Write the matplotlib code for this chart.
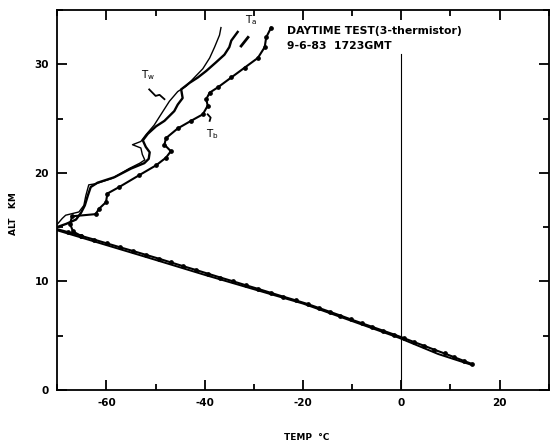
import matplotlib
matplotlib.use("Agg")
import matplotlib.pyplot as plt
from matplotlib.ticker import MultipleLocator

plt.rcParams['axes.unicode_minus'] = False

# upper part of the three profiles (temp C, alt km)
tw_t = [-36.7, -37.0, -38.0, -39.0, -40.4, -42.1, -43.8, -45.5, -47.2, -48.9, -50.3, -52.0,
        -53.0, -54.7, -53.0, -52.7, -52.2, -53.2, -55.4, -58.8, -62.2, -63.6, -64.2, -64.6,
        -65.6, -68.3, -69.0, -70.7]
tw_z = [33.4, 32.7, 31.6, 30.6, 29.6, 28.8, 28.0, 27.5, 26.6, 25.4, 24.4, 23.5,
        22.9, 22.6, 22.3, 21.7, 21.2, 20.9, 20.4, 19.5, 19.0, 18.9, 17.9, 17.0,
        16.4, 16.1, 15.8, 14.9]

ta_t = [-33.3, -34.6, -35.0, -36.0, -37.7, -39.7, -41.4, -43.1, -44.8, -44.5, -45.5, -46.2,
        -48.2, -49.9, -51.6, -52.6, -52.0, -51.2, -51.4, -52.3, -55.0, -58.4, -61.8, -63.2,
        -63.8, -64.4, -65.2, -66.2, -68.2, -70.7]
ta_z = [33.0, 32.2, 31.6, 30.9, 30.2, 29.4, 28.8, 28.3, 27.7, 26.9, 26.3, 25.7,
        24.8, 24.3, 23.6, 23.0, 22.4, 21.9, 21.3, 20.9, 20.4, 19.6, 19.1, 18.7,
        17.9, 17.0, 16.3, 15.7, 15.3, 14.9]

tb_t = [-26.5, -27.5, -27.8, -29.2, -31.9, -34.6, -37.3, -39.0, -39.7, -39.4, -40.4, -42.8,
        -45.5, -47.9, -48.2, -46.9, -47.9, -49.9, -53.3, -57.4, -59.8, -60.1, -61.5, -62.2,
        -67.0, -67.4, -66.8, -65.2]
tb_z = [33.4, 32.5, 31.6, 30.6, 29.7, 28.8, 27.9, 27.4, 26.8, 26.2, 25.4, 24.8,
        24.1, 23.2, 22.6, 22.0, 21.4, 20.7, 19.8, 18.7, 18.1, 17.3, 16.7, 16.2,
        16.0, 15.3, 14.6, 14.2]

# lower (troposphere) part: dotted trace and plain trace
low_t = [-70.7, -67.9, -65.2, -62.5, -59.9, -57.3, -54.6, -52.0, -49.4, -46.9, -44.4, -41.8,
         -39.3, -36.8, -34.2, -31.7, -29.1, -26.6, -24.1, -21.5, -19.0, -16.8, -14.6,
         -12.4, -10.3, -8.1, -5.9, -3.7, -1.5, 0.6, 2.6, 4.7, 6.7, 8.8, 10.8, 12.8, 14.3]
low_z = [14.9, 14.55, 14.2, 13.85, 13.5, 13.15, 12.8, 12.45, 12.1, 11.75, 11.4, 11.05,
         10.7, 10.35, 10.0, 9.65, 9.3, 8.95, 8.6, 8.25, 7.9, 7.55, 7.2,
         6.85, 6.5, 6.15, 5.8, 5.45, 5.1, 4.75, 4.4, 4.05, 3.7, 3.35, 3.0, 2.65, 2.4]
low2_t = [-70.7, -51.6, -40.0, -20.0, -0.5, 7.5, 14.3]
low2_z = [14.8, 12.2, 10.6, 7.95, 4.8, 3.3, 2.3]

fig = plt.figure(figsize=(5.51, 4.45), dpi=100)
ax = fig.add_axes([0.104, 0.124, 0.892, 0.853])

ax.plot(tw_t, tw_z, color="black", lw=1.0)
ax.plot(ta_t, ta_z, color="black", lw=1.7)
ax.plot(tb_t, tb_z, color="black", lw=1.5, marker="o", ms=2.4)
ax.plot(low_t, low_z, color="black", lw=1.5, marker="o", ms=2.4)
ax.plot(low2_t, low2_z, color="black", lw=1.4)

ax.axvline(0, ymax=31.0 / 35, color="black", lw=0.8)

ax.set_xlim(-70, 30)
ax.set_ylim(0, 35)
ax.xaxis.set_major_locator(MultipleLocator(20))
ax.xaxis.set_minor_locator(MultipleLocator(10))
ax.yaxis.set_major_locator(MultipleLocator(10))
ax.yaxis.set_minor_locator(MultipleLocator(5))
ax.tick_params(which="both", direction="in", top=True, right=True, width=1.3,
               labelsize=7.5, pad=6)
ax.tick_params(which="major", length=7)
ax.tick_params(which="minor", length=4)
for lab in ax.get_xticklabels() + ax.get_yticklabels():
    lab.set_fontweight("bold")
for s in ax.spines.values():
    s.set_linewidth(1.3)

ax.text(-23.2, 33.1, "DAYTIME TEST(3-thermistor)", fontsize=7.8, fontweight="bold",
        va="center")
ax.text(-23.2, 31.7, "9-6-83  1723GMT", fontsize=7.8, fontweight="bold", va="center")

ax.text(-51.6, 29.0, r"T$_{\rm w}$", fontsize=7.5, ha="center", va="center")
ax.plot([-51.3, -50.0, -49.2, -48.2], [27.7, 27.1, 27.2, 26.8], color="black", lw=1.3)
ax.text(-30.5, 34.1, r"T$_{\rm a}$", fontsize=7.5, ha="center", va="center")
ax.plot([-32.6, -31.2], [31.7, 32.5], color="black", lw=2.0)
ax.text(-38.5, 23.6, r"T$_{\rm b}$", fontsize=7.5, ha="center", va="center")
ax.plot([-39.4, -38.8, -39.0], [25.4, 25.1, 24.8], color="black", lw=1.3)

fig.text(0.557, 0.012, "TEMP  \u00b0C", fontsize=6.5, fontweight="bold", ha="center")
fig.text(0.016, 0.52, "ALT   KM", fontsize=6.5, fontweight="bold", rotation=90,
         va="center")

fig.savefig("out.png", dpi=100)
